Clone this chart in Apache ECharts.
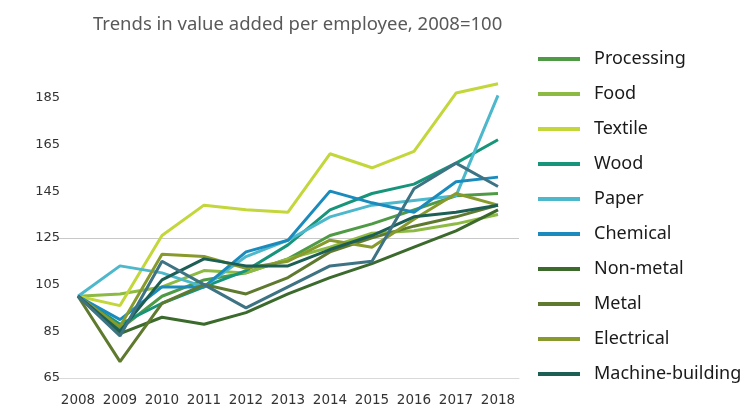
<!DOCTYPE html>
<html>
<head>
<meta charset="utf-8">
<script src="https://cdn.jsdelivr.net/npm/echarts@6/dist/echarts.min.js"></script>
<style>
html,body{margin:0;padding:0;background:#fff;}
#chart{width:746px;height:408px;}
</style>
</head>
<body>
<div id="chart"></div>
<script>
const years = ['2008','2009','2010','2011','2012','2013','2014','2015','2016','2017','2018'];
const yTicks = [65, 85, 105, 125, 145, 165, 185];

const processing      = [100, 86, 100, 107, 110, 116, 126, 131, 137, 143, 144];
const food            = [100, 101, 104, 111, 110, 116, 121, 127, 128, 131, 135];
const textile         = [100, 96, 126, 139, 137, 136, 161, 155, 162, 187, 191];
const wood            = [100, 88, 97, 104, 111, 122, 137, 144, 148, 157, 167];
const paper           = [100, 113, 110, 104, 117, 124, 134, 139, 141, 143, 186];
const chemical        = [100, 90, 104, 104, 119, 124, 145, 140, 136, 149, 151];
const nonMetal        = [100, 84, 91, 88, 93, 101, 108, 114, 121, 128, 137];
const metal           = [100, 72, 97, 105, 101, 108, 119, 125, 130, 134, 139];
const electrical      = [100, 87, 118, 117, 112, 115, 124, 121, 133, 144, 139];
const machineBuilding = [100, 85, 107, 116, 113, 113, 120, 126, 134, 136, 139];
const transport       = [100, 83, 115, 105, 95, 104, 113, 115, 146, 157, 147];

const seriesDefs = [
  ['Processing', processing, '#4e9a45'],
  ['Food', food, '#8dba43'],
  ['Textile', textile, '#c3d63a'],
  ['Wood', wood, '#17957a'],
  ['Paper', paper, '#4db8cc'],
  ['Chemical', chemical, '#1b8bbd'],
  ['Non-metal', nonMetal, '#3b6a2c'],
  ['Metal', metal, '#5f7a2f'],
  ['Electrical', electrical, '#889a2c'],
  ['Machine-building', machineBuilding, '#1d5f55'],
  ['Transport', transport, '#3e7384']
];
const legendNames = ['Processing','Food','Textile','Wood','Paper','Chemical','Non-metal','Metal','Electrical','Machine-building'];

const chart = echarts.init(document.getElementById('chart'), null, {renderer:'canvas'});
const font = 'Noto Sans';
chart.setOption({
  animation: false,
  backgroundColor: '#ffffff',
  title: {
    text: 'Trends in value added per employee, 2008=100',
    left: 88, top: 10,
    textStyle: {fontFamily: font, fontSize: 18.5, fontWeight: 'normal', color: '#595959'}
  },
  legend: {
    data: legendNames,
    orient: 'vertical',
    left: 533, top: 45,
    itemWidth: 42, itemHeight: 4,
    itemGap: 17,
    icon: 'rect',
    textStyle: {fontFamily: font, fontSize: 18, color: '#1a1a1a', padding: [0,0,0,9]}
  },
  grid: {left: 57, right: 227, top: 51, bottom: 30},
  xAxis: {
    type: 'category',
    data: years,
    boundaryGap: true,
    axisLine: {show: true, lineStyle: {color: '#d9d9d9'}},
    axisTick: {show: false},
    axisLabel: {fontFamily: 'DejaVu Sans', fontSize: 13.5, color: '#333', margin: 15, interval: 0, hideOverlap: false}
  },
  yAxis: {
    type: 'value',
    min: 65, max: 205, interval: 20,
    axisLine: {show: false},
    axisTick: {show: false},
    axisLabel: {
      fontFamily: 'DejaVu Sans', fontSize: 13, color: '#333', margin: -3, showMaxLabel: false,
      formatter: v => yTicks.indexOf(v) >= 0 ? String(v) : ''
    },
    splitLine: {show: true, lineStyle: {color: ['rgba(0,0,0,0)','rgba(0,0,0,0)','rgba(0,0,0,0)','#c8c8c8','rgba(0,0,0,0)','rgba(0,0,0,0)','rgba(0,0,0,0)','rgba(0,0,0,0)'], width: 1}}
  },
  series: seriesDefs.map(([name, data, color]) => ({
    name, type: 'line', data,
    symbol: 'none',
    lineStyle: {width: 3, color},
    itemStyle: {color}
  }))
});
</script>
</body>
</html>
